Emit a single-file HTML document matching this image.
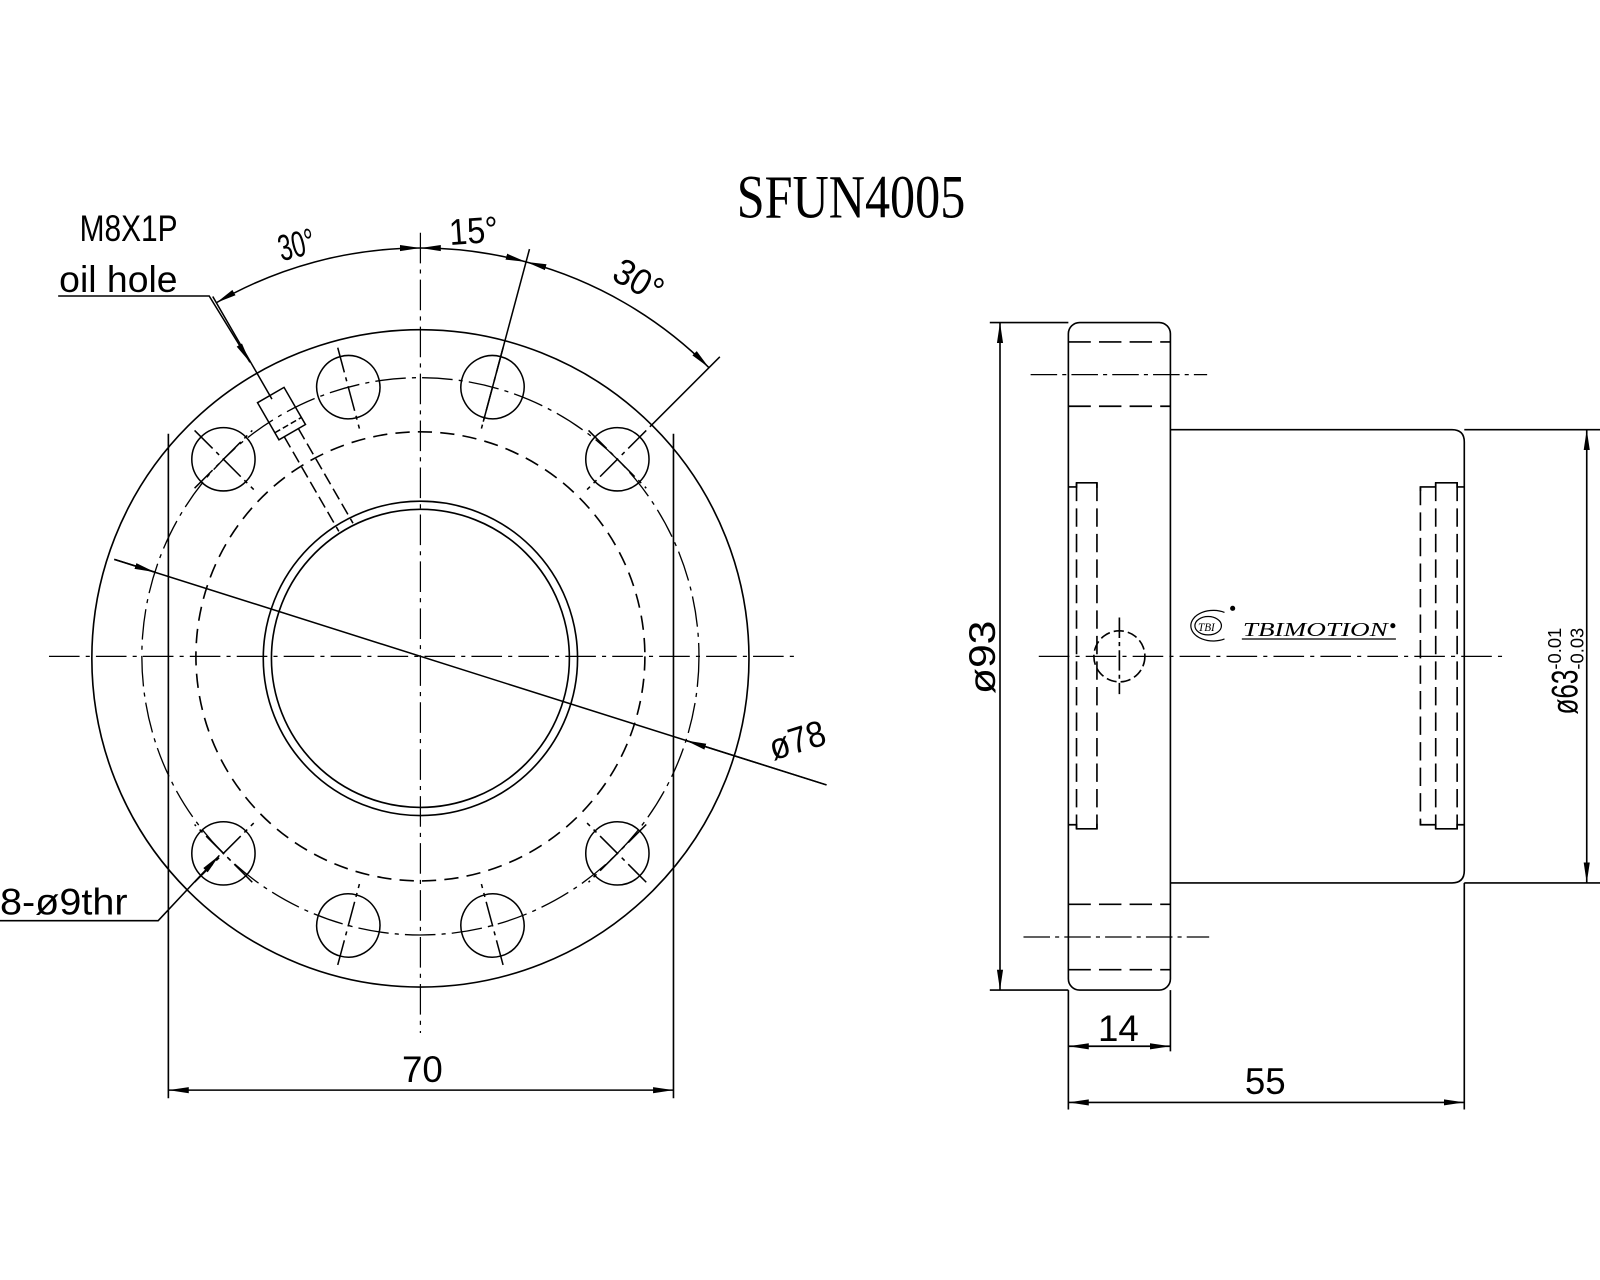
<!DOCTYPE html>
<html><head><meta charset="utf-8"><style>
html,body{margin:0;padding:0;background:#fff;}
svg{display:block;}
text{font-family:"Liberation Sans",sans-serif;fill:#000;}
</style></head><body>
<svg width="1600" height="1280" viewBox="0 0 1568 1254" preserveAspectRatio="none" xmlns="http://www.w3.org/2000/svg">
<defs>
<marker id="a" viewBox="0 0 20 8" refX="20" refY="4" markerWidth="20" markerHeight="8" markerUnits="userSpaceOnUse" orient="auto-start-reverse"><path d="M0,1 L20,4 L0,7 Z" fill="#000"/></marker>
</defs>
<g fill="none" stroke="#000" stroke-width="1.6">
<!-- title -->
</g>
<text x="722" y="213" font-family="Liberation Serif" font-size="60" textLength="224" lengthAdjust="spacingAndGlyphs" style="font-family:'Liberation Serif',serif">SFUN4005</text>

<!-- LEFT VIEW -->
<g fill="none" stroke="#000" stroke-width="1.6">
<circle cx="412" cy="645" r="322"/>
<circle cx="412" cy="643" r="220" stroke-dasharray="14,8"/>
<circle cx="412" cy="643" r="273" stroke-dasharray="30,6,4,6" stroke-width="1.3"/>
<circle cx="412" cy="645" r="154"/>
<circle cx="412" cy="645" r="146"/>
<line x1="165" y1="425" x2="165" y2="1076"/>
<line x1="660" y1="425" x2="660" y2="1076"/>
<line x1="48" y1="643" x2="780" y2="643" stroke-dasharray="30,6,4,6" stroke-width="1.2"/>
<line x1="412" y1="228" x2="412" y2="1012" stroke-dasharray="30,6,4,6" stroke-width="1.2"/>
</g>
<!-- holes -->
<g fill="none" stroke="#000" stroke-width="1.5">
<g transform="rotate(15 412 643)"><circle cx="412" cy="370" r="31"/><line x1="412" y1="330" x2="412" y2="412" stroke-dasharray="25,5,4,5"/></g>
<g transform="rotate(-15 412 643)"><circle cx="412" cy="370" r="31"/><line x1="412" y1="330" x2="412" y2="412" stroke-dasharray="25,5,4,5"/></g>
<g transform="rotate(45 412 643)"><circle cx="412" cy="370" r="31"/><line x1="412" y1="330" x2="412" y2="412" stroke-dasharray="25,5,4,5"/><line x1="372" y1="370" x2="452" y2="370" stroke-dasharray="25,5,4,5"/></g>
<g transform="rotate(-45 412 643)"><circle cx="412" cy="370" r="31"/><line x1="412" y1="330" x2="412" y2="412" stroke-dasharray="25,5,4,5"/><line x1="372" y1="370" x2="452" y2="370" stroke-dasharray="25,5,4,5"/></g>
<g transform="rotate(135 412 643)"><circle cx="412" cy="370" r="31"/><line x1="412" y1="330" x2="412" y2="412" stroke-dasharray="25,5,4,5"/><line x1="372" y1="370" x2="452" y2="370" stroke-dasharray="25,5,4,5"/></g>
<g transform="rotate(-135 412 643)"><circle cx="412" cy="370" r="31"/><line x1="412" y1="330" x2="412" y2="412" stroke-dasharray="25,5,4,5"/><line x1="372" y1="370" x2="452" y2="370" stroke-dasharray="25,5,4,5"/></g>
<g transform="rotate(165 412 643)"><circle cx="412" cy="370" r="31"/><line x1="412" y1="330" x2="412" y2="412" stroke-dasharray="25,5,4,5"/></g>
<g transform="rotate(-165 412 643)"><circle cx="412" cy="370" r="31"/><line x1="412" y1="330" x2="412" y2="412" stroke-dasharray="25,5,4,5"/></g>
<!-- extension lines -->
<g transform="rotate(15 412 643)"><line x1="412" y1="230" x2="412" y2="405"/></g>
<g transform="rotate(45 412 643)"><line x1="412" y1="228" x2="412" y2="325"/></g>
<!-- oil hole -->
<g transform="rotate(-30 412 643)">
<line x1="412" y1="236" x2="412" y2="352"/>
<rect x="398" y="348" width="30" height="42"/>
<line x1="404" y1="390" x2="404" y2="497" stroke-dasharray="12,5"/>
<line x1="420" y1="390" x2="420" y2="497" stroke-dasharray="12,5"/>
<line x1="398" y1="382" x2="428" y2="382" stroke-dasharray="6,3"/>
</g>
</g>
<!-- angle arcs -->
<g fill="none" stroke="#000" stroke-width="1.5">
<path d="M212,296.6 A400,400 0 0 1 412,243" marker-start="url(#a)" marker-end="url(#a)"/>
<path d="M412,243 A400,400 0 0 1 515.5,256.6" marker-start="url(#a)" marker-end="url(#a)"/>
<path d="M515.5,256.6 A400,400 0 0 1 694.8,360.2" marker-start="url(#a)" marker-end="url(#a)"/>
<!-- oil hole leader -->
<polyline points="57,290 205,290 245,355" marker-end="url(#a)"/>
<!-- ø78 -->
<line x1="112" y1="548" x2="810" y2="769"/>
<line x1="112" y1="548" x2="151.8" y2="560.5" marker-end="url(#a)"/>
<line x1="810" y1="769" x2="672.2" y2="725.5" marker-end="url(#a)"/>
<!-- 8-ø9thr leader -->
<polyline points="0,902 155,902 215,838" marker-end="url(#a)"/>
<!-- 70 dim -->
<line x1="165" y1="1068" x2="660" y2="1068" marker-start="url(#a)" marker-end="url(#a)"/>
</g>
<g font-size="36">
<text x="78" y="236" textLength="96" lengthAdjust="spacingAndGlyphs">M8X1P</text>
<text x="58" y="286" textLength="116" lengthAdjust="spacingAndGlyphs">oil hole</text>
<text x="0" y="896" textLength="125" lengthAdjust="spacingAndGlyphs">8-ø9thr</text>
<text x="394" y="1060" textLength="40" lengthAdjust="spacingAndGlyphs">70</text>
<text transform="translate(276,256) rotate(-14)" textLength="36" lengthAdjust="spacingAndGlyphs">30°</text>
<text transform="translate(441,240) rotate(-4)" textLength="48" lengthAdjust="spacingAndGlyphs">15°</text>
<text transform="translate(598,273) rotate(30)" textLength="50" lengthAdjust="spacingAndGlyphs">30°</text>
<text transform="translate(758,745) rotate(-17)" textLength="56" lengthAdjust="spacingAndGlyphs">ø78</text>
</g>

<!-- RIGHT VIEW -->
<g fill="none" stroke="#000" stroke-width="1.6">
<rect x="1047" y="316" width="100" height="654" rx="11"/>
<path d="M1147,421 H1423 Q1435,421 1435,433 V853 Q1435,865 1423,865 H1147"/>
<line x1="1047" y1="335" x2="1147" y2="335" stroke-dasharray="22,8"/>
<line x1="1047" y1="398" x2="1147" y2="398" stroke-dasharray="22,8"/>
<line x1="1010" y1="367" x2="1183" y2="367" stroke-dasharray="26,5,4,5" stroke-width="1.2"/>
<line x1="1047" y1="886" x2="1147" y2="886" stroke-dasharray="22,8"/>
<line x1="1047" y1="950" x2="1147" y2="950" stroke-dasharray="22,8"/>
<line x1="1003" y1="918" x2="1185" y2="918" stroke-dasharray="26,5,4,5" stroke-width="1.2"/>
<line x1="1018" y1="643" x2="1472" y2="643" stroke-dasharray="30,6,4,6" stroke-width="1.2"/>
<!-- inner left -->
<line x1="1055" y1="473" x2="1055" y2="812" stroke-dasharray="18,7"/>
<line x1="1075" y1="473" x2="1075" y2="812" stroke-dasharray="18,7"/>
<path d="M1047,477 H1055 V473 H1075 V478"/>
<path d="M1047,808 H1055 V812 H1075 V807"/>
<!-- inner right -->
<line x1="1392" y1="477" x2="1392" y2="808" stroke-dasharray="18,7"/>
<line x1="1407" y1="473" x2="1407" y2="812" stroke-dasharray="18,7"/>
<line x1="1428" y1="473" x2="1428" y2="812" stroke-dasharray="18,7"/>
<path d="M1392,481 V477 H1407 V473 H1428 V477 H1435"/>
<path d="M1392,804 V808 H1407 V812 H1428 V808 H1435"/>
<!-- small circle -->
<circle cx="1097" cy="643" r="25" stroke-dasharray="10,4"/>
<line x1="1097" y1="605" x2="1097" y2="680" stroke-dasharray="20,4,4,4"/>
<!-- dims -->
<line x1="970" y1="316" x2="1047" y2="316"/>
<line x1="970" y1="970" x2="1047" y2="970"/>
<line x1="980" y1="316" x2="980" y2="970" marker-start="url(#a)" marker-end="url(#a)"/>
<line x1="1435" y1="421" x2="1568" y2="421"/>
<line x1="1435" y1="865" x2="1568" y2="865"/>
<line x1="1555" y1="421" x2="1555" y2="865" marker-start="url(#a)" marker-end="url(#a)"/>
<line x1="1047" y1="970" x2="1047" y2="1087"/>
<line x1="1147" y1="970" x2="1147" y2="1030"/>
<line x1="1435" y1="865" x2="1435" y2="1087"/>
<line x1="1047" y1="1025" x2="1147" y2="1025" marker-start="url(#a)" marker-end="url(#a)"/>
<line x1="1047" y1="1080" x2="1435" y2="1080" marker-start="url(#a)" marker-end="url(#a)"/>
</g>
<g font-size="36">
<text transform="translate(975,680) rotate(-90)" textLength="72" lengthAdjust="spacingAndGlyphs">ø93</text>
<text transform="translate(1546,700) rotate(-90)" textLength="44" lengthAdjust="spacingAndGlyphs">ø63</text>
<text transform="translate(1530,656) rotate(-90)" font-size="18">-0.01</text>
<text transform="translate(1552,656) rotate(-90)" font-size="18">-0.03</text>
<text x="1076" y="1020" textLength="40" lengthAdjust="spacingAndGlyphs">14</text>
<text x="1220" y="1072" textLength="40" lengthAdjust="spacingAndGlyphs">55</text>
</g>
<!-- logo -->
<g fill="none" stroke="#000" stroke-width="1.2">
<path d="M1200,600 A22,15 0 1 0 1200,626"/>
<ellipse cx="1184" cy="613" rx="13" ry="9"/>
<line x1="1217" y1="626" x2="1368" y2="626"/>
</g>
<circle cx="1208" cy="596" r="2.5" fill="#000"/>
<circle cx="1365" cy="613" r="2.5" fill="#000"/>
<text x="1174" y="618" font-size="11" font-style="italic" font-family="Liberation Serif" style="font-family:'Liberation Serif',serif">TBI</text>
<text x="1218" y="623" font-size="20" font-style="italic" textLength="142" lengthAdjust="spacingAndGlyphs" style="font-family:'Liberation Serif',serif">TBIMOTION</text>
</svg>
</body></html>
